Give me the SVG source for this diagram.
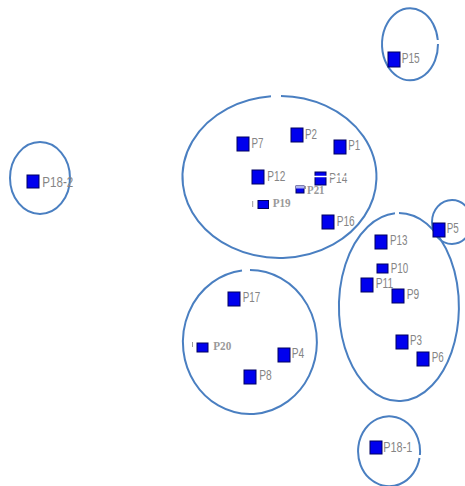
<svg xmlns="http://www.w3.org/2000/svg" width="465" height="486" viewBox="0 0 465 486">
<style>
.cl{fill:none;stroke:#4a7fc1;stroke-width:2}
.sq{fill:#0000ee;stroke:#000060;stroke-width:1}
.lb{font-family:"Liberation Sans",Arial,sans-serif;font-size:15px;fill:#858585}
.sb{font-family:"Liberation Serif","Times New Roman",serif;font-size:11.5px;font-weight:bold;fill:#9a9a9a}
.tk{stroke:#9a9a9a;stroke-width:1}
</style>
<rect width="465" height="486" fill="#ffffff"/>
<g id="clusters">
<path class="cl" d="M281,96 A97,81 0 1,1 271,96.3"/>
<path class="cl" d="M399,213 A60,94 0 1,1 395,213.2"/>
<path class="cl" d="M250,270 A67,72 0 1,1 242,270.5"/>
<ellipse class="cl" cx="40" cy="178" rx="30" ry="36"/>
<path class="cl" d="M438,44 A28,36 0 1,1 437.8,40"/>
<path class="cl" d="M419.5,458 A31,35 0 1,1 419.9,455"/>
<ellipse class="cl" cx="452" cy="222" rx="20" ry="22"/>
</g>
<g id="connectors"></g>
<g id="P7"><rect class="sq" x="237" y="137" width="12" height="14"/><text class="lb" x="251.5" y="148" textLength="12" lengthAdjust="spacingAndGlyphs">P7</text></g>
<g id="P2"><rect class="sq" x="291" y="128" width="12" height="14"/><text class="lb" x="305" y="138.5" textLength="12" lengthAdjust="spacingAndGlyphs">P2</text></g>
<g id="P1"><rect class="sq" x="334" y="140" width="12" height="14"/><text class="lb" x="348.3" y="150" textLength="12" lengthAdjust="spacingAndGlyphs">P1</text></g>
<g id="P12"><rect class="sq" x="252" y="170" width="12" height="14"/><text class="lb" x="267.3" y="180.5" textLength="18" lengthAdjust="spacingAndGlyphs">P12</text></g>
<g id="P14"><rect class="sq" x="315" y="172" width="11" height="13"/><text class="lb" x="329.3" y="182.7" textLength="18" lengthAdjust="spacingAndGlyphs">P14</text><line x1="313" y1="176.5" x2="350" y2="176.5" stroke="#ffffff" stroke-width="1.5"/></g>
<g id="P21"><rect class="sq" x="296" y="186" width="8" height="7"/><rect x="296" y="186" width="8" height="2.5" fill="#b0b4ec"/><line class="tk" x1="305.5" y1="186" x2="305.5" y2="189"/><text class="sb" x="307" y="194" textLength="17.5" lengthAdjust="spacingAndGlyphs">P21</text></g>
<g id="P19"><rect class="sq" x="258" y="200.5" width="10.5" height="8"/><line class="tk" x1="252.7" y1="201" x2="252.7" y2="207"/><text class="sb" x="272.7" y="207" textLength="18" lengthAdjust="spacingAndGlyphs">P19</text></g>
<g id="P16"><rect class="sq" x="322" y="215" width="12" height="14"/><text class="lb" x="336.7" y="225.5" textLength="18" lengthAdjust="spacingAndGlyphs">P16</text></g>
<g id="P13"><rect class="sq" x="375" y="235" width="12" height="14"/><text class="lb" x="390" y="245" textLength="17.5" lengthAdjust="spacingAndGlyphs">P13</text></g>
<g id="P10"><rect class="sq" x="377" y="264" width="11" height="9"/><text class="lb" x="390.7" y="273" textLength="17.5" lengthAdjust="spacingAndGlyphs">P10</text></g>
<g id="P11"><rect class="sq" x="361" y="278" width="12" height="14"/><text class="lb" x="375.7" y="287.5" textLength="17.5" lengthAdjust="spacingAndGlyphs">P11</text></g>
<g id="P9"><rect class="sq" x="392" y="289" width="12" height="14"/><text class="lb" x="406.7" y="298.5" textLength="12.5" lengthAdjust="spacingAndGlyphs">P9</text></g>
<g id="P3"><rect class="sq" x="396" y="335" width="12" height="14"/><text class="lb" x="410" y="344.5" textLength="12" lengthAdjust="spacingAndGlyphs">P3</text></g>
<g id="P6"><rect class="sq" x="417" y="352" width="12" height="14"/><text class="lb" x="431.7" y="362" textLength="12" lengthAdjust="spacingAndGlyphs">P6</text></g>
<g id="P5"><rect class="sq" x="433" y="223" width="12" height="14"/><text class="lb" x="446.7" y="233.3" textLength="12" lengthAdjust="spacingAndGlyphs">P5</text></g>
<g id="P17"><rect class="sq" x="228" y="292" width="12" height="14"/><text class="lb" x="242.7" y="302.3" textLength="17.5" lengthAdjust="spacingAndGlyphs">P17</text></g>
<g id="P20"><rect class="sq" x="197" y="343" width="11" height="9"/><line class="tk" x1="192.5" y1="342" x2="192.5" y2="347"/><text class="sb" x="213.3" y="350" textLength="18" lengthAdjust="spacingAndGlyphs">P20</text></g>
<g id="P4"><rect class="sq" x="278" y="348" width="12" height="14"/><text class="lb" x="291.7" y="357.7" textLength="12.5" lengthAdjust="spacingAndGlyphs">P4</text></g>
<g id="P8"><rect class="sq" x="244" y="370" width="12" height="14"/><text class="lb" x="259.3" y="380" textLength="12.5" lengthAdjust="spacingAndGlyphs">P8</text></g>
<g id="P18-2"><rect class="sq" x="27" y="175" width="12" height="13"/><text class="lb" x="42.3" y="186.5" textLength="31" lengthAdjust="spacingAndGlyphs">P18-2</text></g>
<g id="P15"><rect class="sq" x="388" y="52" width="12" height="15"/><text class="lb" x="401.7" y="62.7" textLength="18" lengthAdjust="spacingAndGlyphs">P15</text></g>
<g id="P18-1"><rect class="sq" x="370" y="441" width="12" height="13"/><text class="lb" x="383.3" y="451.7" textLength="29" lengthAdjust="spacingAndGlyphs">P18-1</text></g>
</svg>
